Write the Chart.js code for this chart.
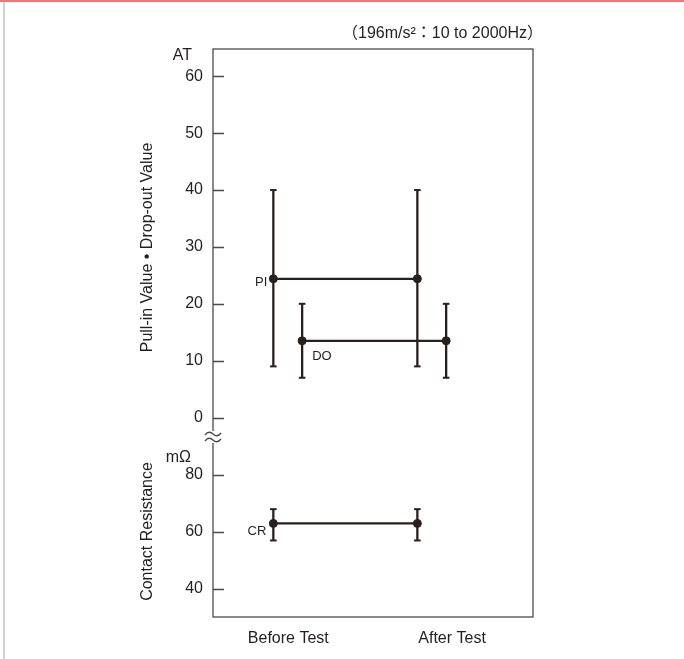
<!DOCTYPE html>
<html>
<head>
<meta charset="utf-8">
<script src="https://cdn.jsdelivr.net/npm/chart.js@4.4.0/dist/chart.umd.min.js"></script>
<style>
  html, body { margin: 0; padding: 0; background: #fff; }
</style>
</head>
<body>
<canvas id="chart" width="684" height="659"></canvas>
<script>
const categories = ["Before Test", "After Test"];
const categoryX = [0, 1];
const piValues = [24.4, 24.4];
const piLow = [9, 9];
const piHigh = [40, 40];
const doValues = [13.5, 13.5];
const doLow = [7, 7];
const doHigh = [20, 20];
const crValues = [63, 63];
const crLow = [57, 57];
const crHigh = [68, 68];
const atTicks = [0, 10, 20, 30, 40, 50, 60];
const mohmTicks = [40, 60, 80];

const ink = "#2b1e1e";
const textColor = "#231f20";
const boxColor = "#4a4a4a";
const font = "'Liberation Sans', Arial, 'Noto Sans CJK JP', sans-serif";
const doShift = 0.2;

function seriesLine(label, values, shift, axis) {
  return {
    label: label,
    yAxisID: axis,
    data: values.map((v, i) => ({ x: categoryX[i] + shift, y: v })),
    borderColor: ink,
    borderWidth: 2.2,
    pointRadius: 4,
    pointHoverRadius: 4,
    pointBorderWidth: 1,
    pointBackgroundColor: ink,
    pointBorderColor: ink,
  };
}

// one dataset per vertical range bar, caps drawn with the "line" point style
function errorBars(label, low, high, shift, axis) {
  return low.map((lo, i) => ({
    label: label + " range " + i,
    yAxisID: axis,
    data: [{ x: categoryX[i] + shift, y: lo }, { x: categoryX[i] + shift, y: high[i] }],
    borderColor: ink,
    borderWidth: 2.3,
    pointStyle: "line",
    pointRadius: 3.3,
    pointHoverRadius: 3.3,
    pointBorderWidth: 2,
    pointBorderColor: ink,
  }));
}

const decor = {
  id: "decor",
  beforeDraw(chart) {
    const ctx = chart.ctx;
    ctx.save();
    ctx.fillStyle = "#fff";
    ctx.fillRect(0, 0, chart.width, chart.height);
    ctx.fillStyle = "#e8787a";
    ctx.fillRect(0, 0, chart.width, 2);
    ctx.fillStyle = "#d2d2d2";
    ctx.fillRect(3, 2, 2, chart.height);
    ctx.restore();
  },
  afterDraw(chart) {
    const ctx = chart.ctx;
    const area = chart.chartArea;
    const y = chart.scales.y;
    const y2 = chart.scales.y2;
    ctx.save();

    // frame and inner tick marks
    ctx.strokeStyle = boxColor;
    ctx.lineWidth = 1.3;
    ctx.strokeRect(area.left, area.top, area.right - area.left, area.bottom - area.top);
    ctx.beginPath();
    [y, y2].forEach((s) => {
      s.ticks.forEach((t) => {
        const py = Math.round(s.getPixelForValue(t.value)) + 0.5;
        ctx.moveTo(area.left, py);
        ctx.lineTo(area.left + 11, py);
      });
    });
    ctx.stroke();

    // axis break
    const bx = area.left;
    const by = y.bottom - 9;
    ctx.fillStyle = "#fff";
    ctx.fillRect(bx - 3, by - 6, 6, 12);
    ctx.beginPath();
    [by - 3, by + 3].forEach((yy) => {
      ctx.moveTo(bx - 8, yy + 1);
      ctx.bezierCurveTo(bx - 5, yy - 3, bx - 2, yy - 2, bx, yy);
      ctx.bezierCurveTo(bx + 2, yy + 2, bx + 5, yy + 3, bx + 8, yy - 1);
    });
    ctx.lineWidth = 1.3;
    ctx.stroke();

    // unit labels and condition note
    ctx.fillStyle = textColor;
    ctx.font = "16px " + font;
    ctx.textBaseline = "middle";
    ctx.textAlign = "right";
    ctx.fillText("AT", 192, 56);
    ctx.fillText("mΩ", 191, 458);
    ctx.fillText("（196m/s²：10 to 2000Hz）", 543, 34);

    // series names next to the first point
    ctx.font = "13px " + font;
    const pi = chart.getDatasetMeta(0).data[0];
    const dO = chart.getDatasetMeta(1).data[0];
    const cr = chart.getDatasetMeta(2).data[0];
    ctx.textAlign = "right";
    ctx.fillText("PI", pi.x - 6, pi.y + 4);
    ctx.fillText("CR", cr.x - 7, cr.y + 8);
    ctx.textAlign = "left";
    ctx.fillText("DO", dO.x + 10, dO.y + 16);
    ctx.restore();
  },
};

const tickFont = { family: font, size: 16 };

new Chart(document.getElementById("chart"), {
  type: "line",
  data: {
    datasets: [
      seriesLine("PI", piValues, 0, "y"),
      seriesLine("DO", doValues, doShift, "y"),
      seriesLine("CR", crValues, 0, "y2"),
      ...errorBars("PI", piLow, piHigh, 0, "y"),
      ...errorBars("DO", doLow, doHigh, doShift, "y"),
      ...errorBars("CR", crLow, crHigh, 0, "y2"),
    ],
  },
  options: {
    responsive: false,
    animation: false,
    events: [],
    layout: { padding: { left: 138, right: 151, top: 49, bottom: 0 } },
    plugins: { legend: { display: false }, tooltip: { enabled: false } },
    scales: {
      x: {
        type: "linear",
        min: -0.419,
        max: 1.803,
        grid: { display: false, drawTicks: false },
        border: { display: false },
        afterBuildTicks: (s) => {
          s.ticks = categoryX.map((v, i) => ({ value: v + [0.104, 0.241][i] }));
        },
        afterFit: (s) => { s.height = 42; },
        ticks: {
          autoSkip: false,
          maxRotation: 0,
          padding: 12,
          color: textColor,
          font: tickFont,
          callback: (v, i) => categories[i],
        },
      },
      // left boxes are stacked in reverse order, so the lower axis comes first
      y2: {
        type: "linear",
        position: "left",
        stack: "left",
        stackWeight: 171,
        min: 30.1,
        max: 90.2,
        grid: { display: false, drawTicks: false },
        border: { display: false },
        afterBuildTicks: (s) => { s.ticks = mohmTicks.map((v) => ({ value: v })); },
        afterFit: (s) => { s.width = 75; },
        ticks: { padding: 10, color: textColor, font: tickFont },
        title: {
          display: true,
          text: "Contact Resistance",
          padding: 0,
          color: textColor,
          font: tickFont,
        },
      },
      y: {
        type: "linear",
        position: "left",
        stack: "left",
        stackWeight: 397,
        min: -5,
        max: 64.8,
        grid: { display: false, drawTicks: false },
        border: { display: false },
        afterBuildTicks: (s) => { s.ticks = atTicks.map((v) => ({ value: v })); },
        afterFit: (s) => { s.width = 75; },
        ticks: { padding: 10, color: textColor, font: tickFont },
        title: {
          display: true,
          text: "Pull-in Value • Drop-out Value",
          padding: 0,
          color: textColor,
          font: tickFont,
        },
      },
    },
  },
  plugins: [decor],
});
</script>
</body>
</html>
